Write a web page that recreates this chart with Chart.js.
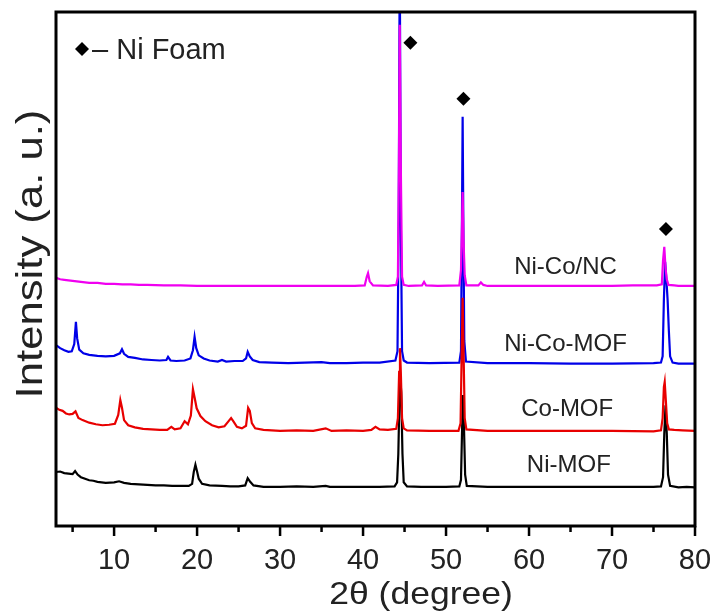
<!DOCTYPE html>
<html><head><meta charset="utf-8">
<script src="https://cdn.jsdelivr.net/npm/chart.js@4.4.0/dist/chart.umd.min.js"></script>
<style>html,body{margin:0;padding:0;background:#fff;}canvas{display:block;}</style>
</head><body>
<canvas id="c" width="716" height="616"></canvas>
<script>
// ---- data (2θ in degree, stacked intensity in a.u.) ----
const seriesNames = ['Ni-Co/NC', 'Ni-Co-MOF', 'Co-MOF', 'Ni-MOF'];

const niCoNC = [[3,48.3],[3.5,48.0],[4,47.9],[5,47.7],[6,47.5],[7,47.3],[8,47.3],[9,47.1],[10,47.1],[11,47.0],[12,47.0],[13,46.9],[14,46.9],[16,46.8],[18,46.8],[20,46.7],[22,46.7],[25,46.7],[28,46.7],[31,46.7],[34,46.7],[37,46.7],[39,46.7],[40.2,46.8],[40.45,48.5],[40.6,49.2],[40.8,47.6],[41.2,46.8],[43,46.7],[44.0,46.9],[44.2,48.5],[44.32,70],[44.42,97.5],[44.55,70],[44.7,48.5],[44.9,46.9],[45.5,46.7],[47.1,46.8],[47.35,47.5],[47.6,46.8],[49,46.7],[51.6,46.8],[51.8,49.8],[51.92,58],[52.0,65.0],[52.1,56],[52.25,48.8],[52.45,46.8],[53.9,46.8],[54.2,47.4],[54.5,46.9],[55,46.7],[60,46.7],[65,46.7],[70,46.7],[72.5,46.8],[75.4,46.8],[76.0,47.0],[76.15,51.7],[76.3,54.3],[76.45,50.2],[76.6,48],[76.8,46.9],[77.5,46.8],[78,46.7],[80,46.7]];

const niCoMOF = [[3,35.2],[3.5,34.6],[4,34.2],[4.5,33.9],[4.9,34.0],[5.2,35.4],[5.4,39.7],[5.55,36.5],[5.8,34.3],[6.3,33.6],[7,33.3],[8,33.1],[9,33.0],[10,33.1],[10.7,33.6],[10.95,34.4],[11.2,33.5],[11.7,32.9],[12.5,32.7],[13.5,32.4],[14.5,32.3],[15.5,32.2],[16.3,32.3],[16.5,32.9],[16.8,32.2],[17.5,32.1],[18.5,32.2],[19.2,32.6],[19.5,34.2],[19.7,36.8],[19.9,34.6],[20.2,33.2],[20.8,32.6],[21.5,32.2],[22.5,32.0],[23,32.3],[23.5,32.0],[24.5,32.1],[25.5,32.1],[25.9,32.6],[26.1,33.9],[26.35,33.0],[26.7,32.3],[27.5,31.9],[29,31.8],[31,31.7],[33,31.8],[35,31.9],[36,31.7],[38,31.7],[40,31.8],[42,31.8],[43.9,32.2],[44.15,34],[44.3,60],[44.42,112],[44.55,60],[44.7,34],[44.9,32.2],[45.3,31.8],[48,31.7],[51.6,31.8],[51.8,34],[51.92,60],[52.0,79.6],[52.08,60],[52.2,36],[52.4,32.0],[55,31.7],[60,31.7],[65,31.6],[70,31.6],[75,31.7],[75.9,31.8],[76.1,33],[76.25,44],[76.4,51.4],[76.55,48],[76.7,44],[76.85,38],[77.0,33],[77.3,31.8],[78,31.6],[80,31.6]];

const coMOF = [[3,23.0],[3.4,22.6],[3.8,22.4],[4.2,21.9],[4.6,21.7],[5.0,21.8],[5.35,22.3],[5.7,21.0],[6.2,20.6],[7,20.1],[7.8,19.8],[8.6,19.6],[9.4,19.7],[10.1,19.9],[10.5,21.6],[10.75,24.5],[10.95,23.0],[11.2,20.6],[11.7,19.6],[12.5,19.2],[13.5,18.9],[14.5,18.8],[15.5,18.7],[16.4,18.7],[16.9,19.3],[17.3,18.8],[18.0,19.0],[18.5,20.4],[18.9,19.8],[19.25,21.5],[19.5,26.6],[19.7,25.0],[19.95,22.9],[20.4,21.4],[21,20.4],[21.8,19.6],[22.6,19.2],[23.3,19.4],[23.8,20.4],[24.1,21.0],[24.4,20.3],[24.8,19.3],[25.4,19.0],[25.9,19.5],[26.15,23.0],[26.35,22.4],[26.6,20.0],[27.0,19.0],[28,18.7],[30,18.5],[32,18.6],[34,18.5],[35.5,19.0],[36.2,18.5],[38,18.6],[40,18.5],[41,18.7],[41.5,19.3],[42.0,18.8],[43,18.7],[44.0,18.9],[44.2,21],[44.35,30],[44.45,34.6],[44.55,30],[44.7,21],[44.9,19],[45.3,18.6],[48,18.5],[51.5,18.5],[51.75,20],[51.9,35],[52.0,44.4],[52.1,35],[52.25,21],[52.45,18.8],[55,18.5],[60,18.5],[65,18.5],[70,18.5],[75,18.4],[75.9,18.6],[76.1,21],[76.25,27],[76.35,28.0],[76.5,24],[76.65,20],[76.85,18.8],[77.5,18.7],[78.5,18.6],[80,18.5]];

const niMOF = [[3,10.5],[3.5,10.6],[4,10.3],[4.5,10.2],[5,10.1],[5.3,10.7],[5.6,10.0],[6,9.5],[6.5,9.2],[7,8.9],[7.5,8.8],[8,8.6],[9,8.4],[10,8.5],[10.6,8.7],[11.2,8.4],[12,8.2],[13,8.1],[14,8.0],[15,7.9],[16,7.9],[17,7.8],[18,7.8],[19,7.8],[19.4,8.2],[19.6,10.5],[19.8,11.9],[20.0,10.6],[20.2,9.2],[20.6,8.2],[21.5,7.9],[23,7.8],[24,7.7],[25,7.7],[25.8,7.9],[26.1,9.3],[26.4,8.6],[26.8,7.9],[28,7.6],[30,7.6],[32,7.7],[34,7.6],[35.5,7.8],[36,7.6],[38,7.6],[40,7.6],[42,7.6],[43.8,7.7],[44.1,8.5],[44.25,14],[44.4,26],[44.5,28.4],[44.6,26],[44.75,14],[44.9,8.5],[45.3,7.7],[47,7.6],[50,7.6],[51.6,7.7],[51.8,9],[51.95,20],[52.05,25.5],[52.15,20],[52.3,10],[52.5,7.8],[55,7.6],[60,7.6],[65,7.6],[70,7.6],[75,7.6],[75.9,7.7],[76.15,9.5],[76.3,18],[76.45,23.5],[76.6,18],[76.75,10],[77.0,7.8],[78,7.5],[79,7.6],[80,7.5]];

const niFoamMarks = [[45.7,94.0],[52.1,83.1],[76.5,57.8]];
const legendText = '– Ni Foam';
const xTitle = '2θ (degree)';
const yTitle = 'Intensity (a. u.)';
const xTicks = [10,20,30,40,50,60,70,80];
const xMinorTicks = [5,15,25,35,45,55,65,75];

// ---- styling / layout ----
const FONT = '"Liberation Sans", Arial, Helvetica, sans-serif';
const colors = ['#f000f0', '#0000e8', '#e80000', '#000000'];
const labelAnchors = [[64.4,50.4],[64.4,35.4],[64.6,22.6],[64.8,11.7]];
const toXY = a => a.map(p => ({x: p[0], y: p[1]}));
const traces = [niCoNC, coMOF, niCoMOF, niMOF];
const traceColors = [colors[0], colors[2], colors[1], colors[3]];
const traceNames = [seriesNames[0], seriesNames[2], seriesNames[1], seriesNames[3]];

function stretchedText(ctx, text, x, y, rot, sx) {
  ctx.save();
  ctx.translate(x, y);
  ctx.rotate(rot);
  ctx.scale(sx, 1);
  ctx.fillText(text, 0, 0);
  ctx.restore();
}

const framePlugin = {
  id: 'frame',
  afterDatasetsDraw(chart) {
    const {ctx, chartArea: a, scales: {x, y}} = chart;
    ctx.save();
    ctx.strokeStyle = '#000';
    ctx.lineWidth = 3;
    ctx.strokeRect(a.left, a.top, a.right - a.left, a.bottom - a.top);
    ctx.lineWidth = 2.5;
    ctx.beginPath();
    xTicks.forEach(t => { const p = x.getPixelForValue(t); ctx.moveTo(p, a.bottom); ctx.lineTo(p, a.bottom + 10); });
    xMinorTicks.forEach(t => { const p = x.getPixelForValue(t); ctx.moveTo(p, a.bottom); ctx.lineTo(p, a.bottom + 6); });
    ctx.stroke();
    // series labels
    ctx.fillStyle = '#222';
    ctx.font = '24px ' + FONT;
    ctx.textAlign = 'center';
    ctx.textBaseline = 'middle';
    seriesNames.forEach((n, i) => {
      ctx.fillText(n, x.getPixelForValue(labelAnchors[i][0]), y.getPixelForValue(labelAnchors[i][1]));
    });
    // axis titles
    ctx.font = '32px ' + FONT;
    stretchedText(ctx, xTitle, 421, 595, 0, 1.11);
    ctx.font = '37px ' + FONT;
    stretchedText(ctx, yTitle, 32, 254, -Math.PI / 2, 1.18);
    // legend
    const lx = a.left + 26, ly = a.top + 37;
    ctx.fillStyle = '#000';
    ctx.beginPath();
    ctx.moveTo(lx, ly - 7); ctx.lineTo(lx + 7, ly); ctx.lineTo(lx, ly + 7); ctx.lineTo(lx - 7, ly); ctx.closePath();
    ctx.fill();
    ctx.fillStyle = '#222';
    ctx.font = '29px ' + FONT;
    ctx.textAlign = 'left';
    ctx.textBaseline = 'alphabetic';
    ctx.fillText(legendText, lx + 10, ly + 10);
    ctx.restore();
  }
};

const datasets = [{
  label: 'Ni Foam',
  data: toXY(niFoamMarks),
  showLine: false,
  pointStyle: 'rectRot',
  pointRadius: 7,
  backgroundColor: '#000',
  borderColor: '#000',
  borderWidth: 0
}];
traces.forEach((t, i) => datasets.push({
  label: traceNames[i],
  data: toXY(t),
  showLine: true,
  pointRadius: 0,
  borderColor: traceColors[i],
  borderWidth: 2.2,
  tension: 0
}));

new Chart(document.getElementById('c'), {
  type: 'scatter',
  data: {datasets},
  options: {
    responsive: false,
    animation: false,
    layout: {padding: {top: 12, right: 21, left: 0, bottom: 0}},
    plugins: {legend: {display: false}, tooltip: {enabled: false}},
    scales: {
      x: {
        type: 'linear', min: 3, max: 80,
        afterBuildTicks: s => { s.ticks = xTicks.map(v => ({value: v})); },
        afterFit: s => { s.height = 90; s.paddingLeft = 0; s.paddingRight = 0; },
        grid: {display: false, drawTicks: false},
        border: {display: false},
        ticks: {font: {family: FONT, size: 29}, color: '#222', padding: 18, maxRotation: 0},
        title: {display: false}
      },
      y: {
        type: 'linear', min: 0, max: 100,
        afterFit: s => { s.width = 56; s.paddingTop = 0; s.paddingBottom = 0; },
        grid: {display: false, drawTicks: false},
        border: {display: false},
        ticks: {display: false},
        title: {display: false}
      }
    }
  },
  plugins: [framePlugin]
});
</script>
</body></html>
